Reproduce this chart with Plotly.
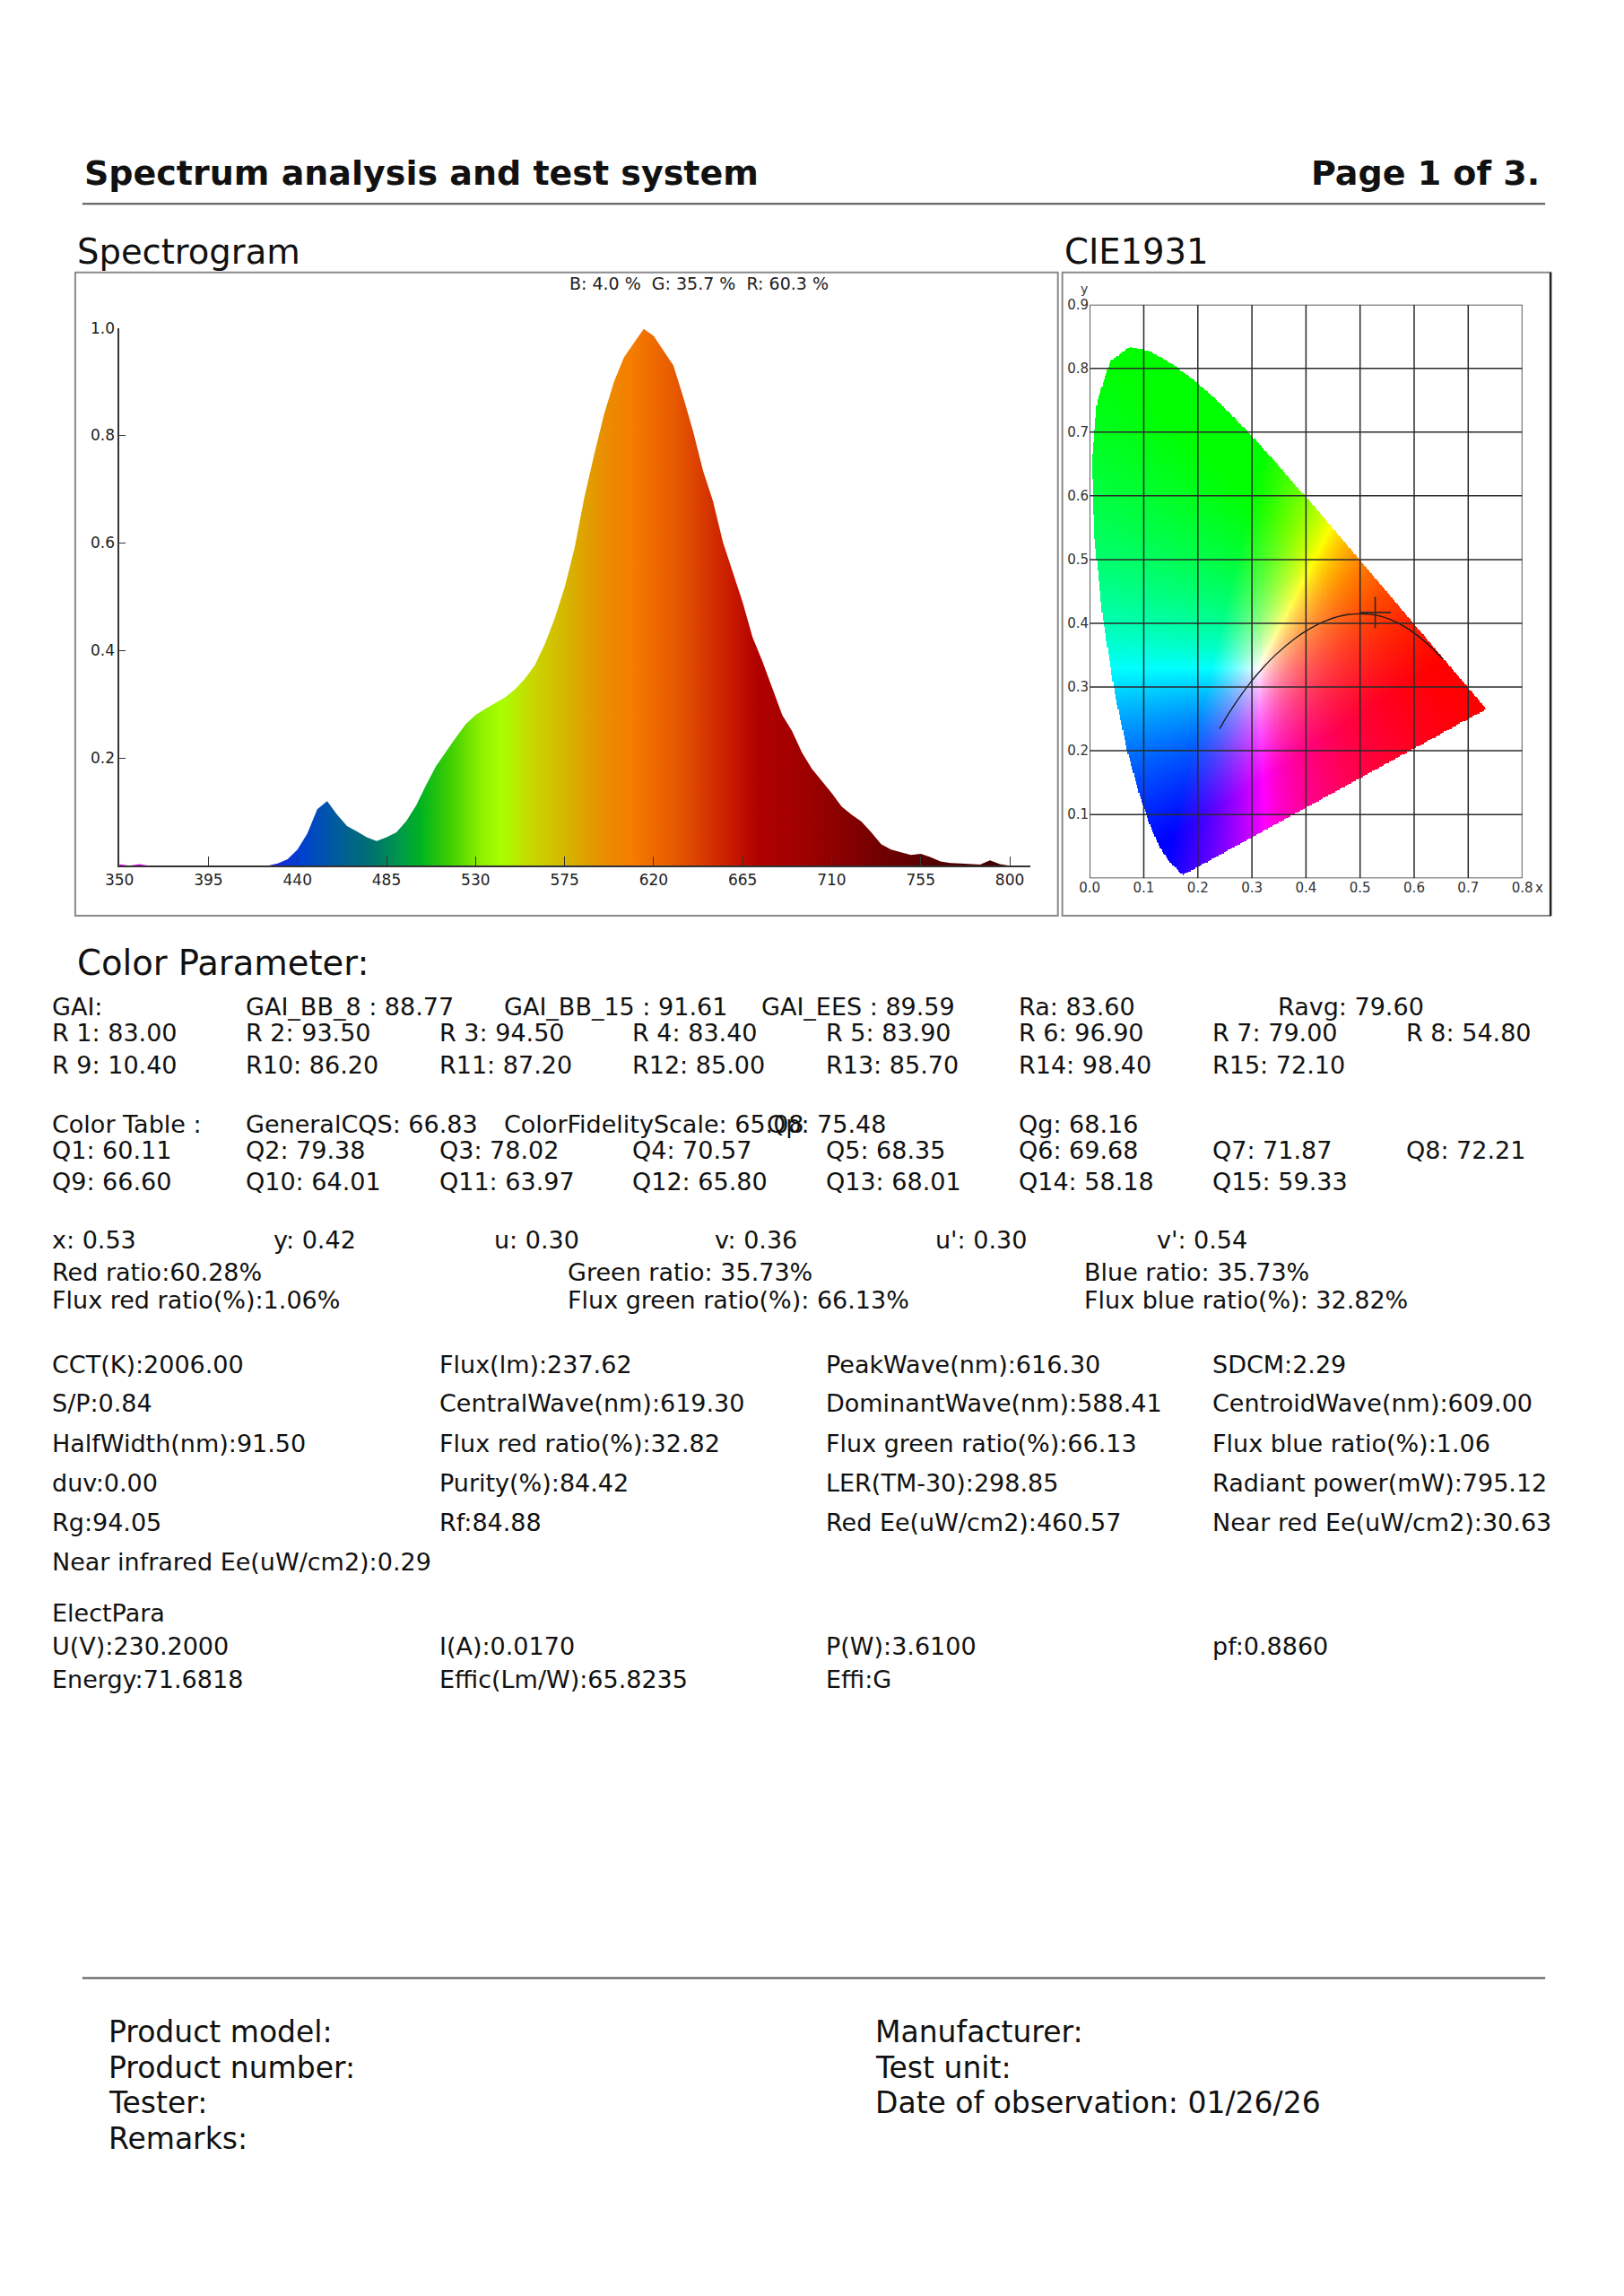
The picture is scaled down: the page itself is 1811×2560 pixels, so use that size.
import base64
import struct
import zlib

import numpy as np
import plotly.graph_objects as go

# ---------------- data read from the report ----------------
# relative spectrum, 5 nm steps
wavelength = list(range(350, 805, 5))
intensity = [
    0.003, 0.0, 0.003, 0.0, 0.0, 0.0, 0.0, 0.0, 0.0, 0.0,        # 350-395
    0.0, 0.0, 0.0, 0.0, 0.0, 0.0, 0.004, 0.012, 0.030, 0.060,     # 400-445
    0.105, 0.120, 0.095, 0.074, 0.064, 0.053, 0.046, 0.053, 0.062, 0.083,  # 450-495
    0.112, 0.150, 0.185, 0.212, 0.238, 0.263, 0.280, 0.292, 0.302, 0.313,  # 500-545
    0.328, 0.348, 0.373, 0.412, 0.460, 0.517, 0.590, 0.685, 0.765, 0.840,  # 550-595
    0.900, 0.945, 0.972, 0.998, 0.985, 0.958, 0.930, 0.871, 0.807, 0.734,  # 600-645
    0.678, 0.602, 0.545, 0.490, 0.425, 0.380, 0.330, 0.280, 0.250, 0.210,  # 650-695
    0.180, 0.158, 0.135, 0.110, 0.095, 0.082, 0.062, 0.040, 0.030, 0.025,  # 700-745
    0.020, 0.022, 0.016, 0.008, 0.005, 0.004, 0.003, 0.002, 0.010, 0.003,  # 750-795
    0.0,                                                           # 800
]
spec_ticks = list(range(350, 805, 45))
spec_yticks = [0.2, 0.4, 0.6, 0.8, 1.0]
rgb_share = "B: 4.0 %  G: 35.7 %  R: 60.3 %"

# fill colours along the wavelength axis
band_nm = [350, 400, 425, 440, 460, 475, 490, 500, 515, 530, 540, 555, 575, 590,
           605, 625, 640, 655, 668, 690, 710, 730, 760, 800]
band_col = ["#ff00ff", "#7a00ff", "#2020e0", "#0040d0", "#005e98", "#007070",
            "#009a48", "#00b420", "#40d000", "#90f000", "#a8ff00", "#c8d800",
            "#d8b000", "#e89000", "#f57c00", "#e85c00", "#d83c00", "#c81800",
            "#b00000", "#a00000", "#880000", "#700000", "#500000", "#3c0000"]

# CIE 1931 spectral locus 380-700 nm (5 nm)
locus_x = [0.1741, 0.1740, 0.1738, 0.1736, 0.1733, 0.1730, 0.1726, 0.1721, 0.1714,
           0.1703, 0.1689, 0.1669, 0.1644, 0.1611, 0.1566, 0.1510, 0.1440, 0.1355,
           0.1241, 0.1096, 0.0913, 0.0687, 0.0454, 0.0235, 0.0082, 0.0039, 0.0139,
           0.0389, 0.0743, 0.1142, 0.1547, 0.1929, 0.2296, 0.2658, 0.3016, 0.3373,
           0.3731, 0.4087, 0.4441, 0.4788, 0.5125, 0.5448, 0.5752, 0.6029, 0.6270,
           0.6482, 0.6658, 0.6801, 0.6915, 0.7006, 0.7079, 0.7140, 0.7190, 0.7230,
           0.7260, 0.7283, 0.7300, 0.7311, 0.7320, 0.7327, 0.7334, 0.7340, 0.7344,
           0.7346, 0.7347]
locus_y = [0.0050, 0.0050, 0.0049, 0.0049, 0.0048, 0.0048, 0.0048, 0.0048, 0.0051,
           0.0058, 0.0069, 0.0086, 0.0109, 0.0138, 0.0177, 0.0227, 0.0297, 0.0399,
           0.0578, 0.0868, 0.1327, 0.2007, 0.2950, 0.4127, 0.5384, 0.6548, 0.7502,
           0.8120, 0.8338, 0.8262, 0.8059, 0.7816, 0.7543, 0.7243, 0.6923, 0.6589,
           0.6245, 0.5896, 0.5547, 0.5202, 0.4866, 0.4544, 0.4242, 0.3965, 0.3725,
           0.3514, 0.3340, 0.3197, 0.3083, 0.2993, 0.2920, 0.2859, 0.2809, 0.2770,
           0.2740, 0.2717, 0.2700, 0.2689, 0.2680, 0.2673, 0.2666, 0.2660, 0.2656,
           0.2654, 0.2653]

# Planckian locus 1000 K .. infinity
planck_x = [0.6528, 0.6251, 0.5857, 0.5547, 0.5267, 0.4770, 0.4369, 0.4053, 0.3805,
            0.3451, 0.3221, 0.3064, 0.2952, 0.2807, 0.2637, 0.2565, 0.2501, 0.2399]
planck_y = [0.3444, 0.3674, 0.3931, 0.4065, 0.4133, 0.4137, 0.4041, 0.3907, 0.3768,
            0.3516, 0.3318, 0.3166, 0.3048, 0.2883, 0.2673, 0.2577, 0.2489, 0.2342]

point_x, point_y = 0.528, 0.417
cie_xticks = [0.0, 0.1, 0.2, 0.3, 0.4, 0.5, 0.6, 0.7, 0.8]
cie_yticks = [0.0, 0.1, 0.2, 0.3, 0.4, 0.5, 0.6, 0.7, 0.8, 0.9]

# colour parameter texts
gai_row = ["GAI:", "GAI_BB_8 : 88.77", "GAI_BB_15 : 91.61", "GAI_EES : 89.59",
           "Ra: 83.60", "Ravg: 79.60"]
r_values = [83.00, 93.50, 94.50, 83.40, 83.90, 96.90, 79.00, 54.80,
            10.40, 86.20, 87.20, 85.00, 85.70, 98.40, 72.10]
cqs_row = ["Color Table :", "GeneralCQS: 66.83", "ColorFidelityScale: 65.08",
           "Qp: 75.48", "Qg: 68.16"]
q_values = [60.11, 79.38, 78.02, 70.57, 68.35, 69.68, 71.87, 72.21,
            66.60, 64.01, 63.97, 65.80, 68.01, 58.18, 59.33]
chroma_row = ["x: 0.53", "y: 0.42", "u: 0.30", "v: 0.36", "u': 0.30", "v': 0.54"]
ratio_rows = [
    ["Red ratio:60.28%", "Green ratio: 35.73%", "Blue ratio: 35.73%"],
    ["Flux red ratio(%):1.06%", "Flux green ratio(%): 66.13%", "Flux blue ratio(%): 32.82%"],
]
photo_rows = [
    ["CCT(K):2006.00", "Flux(lm):237.62", "PeakWave(nm):616.30", "SDCM:2.29"],
    ["S/P:0.84", "CentralWave(nm):619.30", "DominantWave(nm):588.41", "CentroidWave(nm):609.00"],
    ["HalfWidth(nm):91.50", "Flux red ratio(%):32.82", "Flux green ratio(%):66.13", "Flux blue ratio(%):1.06"],
    ["duv:0.00", "Purity(%):84.42", "LER(TM-30):298.85", "Radiant power(mW):795.12"],
    ["Rg:94.05", "Rf:84.88", "Red Ee(uW/cm2):460.57", "Near red Ee(uW/cm2):30.63"],
    ["Near infrared Ee(uW/cm2):0.29"],
]
elect_rows = [
    ["ElectPara"],
    ["U(V):230.2000", "I(A):0.0170", "P(W):3.6100", "pf:0.8860"],
    ["Energy:71.6818", "Effic(Lm/W):65.8235", "Effi:G"],
]
footer_left = ["Product model:", "Product number:", "Tester:", "Remarks:"]
footer_right = ["Manufacturer:", "Test unit:", "Date of observation: 01/26/26"]

# ---------------- page geometry (pixels) ----------------
W, H = 1811, 2560
FONT = "DejaVu Sans"


def fx(p):
    return p / W


def fy(p):
    return 1 - p / H


def txt(s, x, y, size=27, anchor="left", color="#111"):
    return dict(text=s, x=fx(x), y=fy(y), xref="paper", yref="paper",
                xanchor=anchor, yanchor="middle", showarrow=False,
                font=dict(family=FONT, size=size, color=color))


# ---------------- CIE background picture ----------------
NX, NY = 400, 450
DX, DY = 0.8 / NX, 0.9 / NY
gx, gy = np.meshgrid((np.arange(NX) + 0.5) * DX, (np.arange(NY) + 0.5) * DY)

vx = np.array(locus_x)
vy = np.array(locus_y)
inside = np.zeros(gx.shape, bool)
j = len(vx) - 1
with np.errstate(divide="ignore", invalid="ignore"):
    for i in range(len(vx)):
        cross = ((vy[i] > gy) != (vy[j] > gy)) & \
                (gx < (vx[j] - vx[i]) * (gy - vy[i]) / (vy[j] - vy[i]) + vx[i])
        inside ^= cross
        j = i

M = np.array([[3.2406, -1.5372, -0.4986],
              [-0.9689, 1.8758, 0.0415],
              [0.0557, -0.2040, 1.0570]])
XYZ = np.stack([gx / gy, np.ones_like(gx), (1 - gx - gy) / gy], axis=-1)
lin = np.clip(XYZ @ M.T, 0, None)
lin = lin / np.maximum(lin.max(axis=-1, keepdims=True), 1e-9)
rgba = np.zeros((NY, NX, 4), np.uint8)
rgba[..., :3] = np.clip(lin * 255, 0, 255).astype(np.uint8)
rgba[..., 3] = np.where(inside, 255, 0)


def png_uri(img):
    h, w, _ = img.shape
    raw = b"".join(b"\x00" + img[r].tobytes() for r in range(h))

    def chunk(tag, data):
        c = struct.pack(">I", len(data)) + tag + data
        return c + struct.pack(">I", zlib.crc32(tag + data) & 0xFFFFFFFF)

    png = (b"\x89PNG\r\n\x1a\n"
           + chunk(b"IHDR", struct.pack(">IIBBBBB", w, h, 8, 6, 0, 0, 0))
           + chunk(b"IDAT", zlib.compress(raw, 9))
           + chunk(b"IEND", b""))
    return "data:image/png;base64," + base64.b64encode(png).decode()


# ---------------- figure ----------------
fig = go.Figure()

span = band_nm[-1] - band_nm[0]
scale = [[(n - band_nm[0]) / span, c] for n, c in zip(band_nm, band_col)]
fig.add_trace(go.Scatter(
    x=wavelength, y=intensity, mode="lines", line=dict(width=0.5, color="rgba(0,0,0,0)"),
    fill="tozeroy",
    fillgradient=dict(type="horizontal", colorscale=scale, start=band_nm[0], stop=band_nm[-1]),
    hoverinfo="skip",
))

fig.add_trace(go.Image(source=png_uri(rgba), x0=DX / 2, dx=DX, y0=DY / 2, dy=DY,
                       xaxis="x2", yaxis="y2", hoverinfo="skip"))
fig.add_trace(go.Scatter(x=planck_x, y=planck_y, mode="lines", xaxis="x2", yaxis="y2",
                         line=dict(color="#1a1a1a", width=1.3, shape="spline"),
                         hoverinfo="skip"))
fig.add_trace(go.Scatter(x=[point_x], y=[point_y], mode="markers", xaxis="x2", yaxis="y2",
                         marker=dict(symbol="cross-thin", size=25,
                                     line=dict(width=1.6, color="#2a2a2a")),
                         hoverinfo="skip"))

BOX_TOP, BOX_BOT = 295, 1015
shapes = [
    dict(type="line", xref="paper", yref="paper", x0=fx(77), x1=fx(1734), y0=fy(218), y1=fy(218),
         line=dict(color="#555", width=2)),
    dict(type="line", xref="paper", yref="paper", x0=fx(77), x1=fx(1734), y0=fy(2204), y1=fy(2204),
         line=dict(color="#555", width=2)),
    dict(type="rect", xref="paper", yref="paper", x0=fx(69), x1=fx(1182), y0=fy(BOX_BOT), y1=fy(BOX_TOP),
         line=dict(color="#8a8a8a", width=2)),
    dict(type="rect", xref="paper", yref="paper", x0=fx(1187), x1=fx(1740), y0=fy(BOX_BOT), y1=fy(BOX_TOP),
         line=dict(color="#8a8a8a", width=2)),
    dict(type="line", xref="paper", yref="paper", x0=fx(1740), x1=fx(1740), y0=fy(BOX_BOT), y1=fy(BOX_TOP),
         line=dict(color="#222", width=2.5)),
]
for v in cie_xticks:
    shapes.append(dict(type="line", xref="x2", yref="y2", x0=v, x1=v, y0=0, y1=0.9, layer="above",
                       line=dict(color="#2a2a2a", width=1.5)))
for v in cie_yticks:
    shapes.append(dict(type="line", xref="x2", yref="y2", x0=0, x1=0.8, y0=v, y1=v, layer="above",
                       line=dict(color="#2a2a2a", width=1.5)))

ann = [
    txt("<b>Spectrum analysis and test system</b>", 77, 184, size=38),
    txt("<b>Page 1 of 3.</b>", 1730, 184, size=38, anchor="right"),
    txt("Spectrogram", 69, 272, size=38.5),
    txt("CIE1931", 1187, 272, size=38.5),
    txt(rgb_share, 775, 307, size=19, anchor="center", color="#222"),
    txt("y", 1212, 313, size=14, anchor="center", color="#333"),
    txt("x", 1727, 984, size=15, anchor="center", color="#333"),
    txt("Color Parameter:", 69, 1068, size=38.5),
]

# GAI / R / CQS / Q block
col8 = [41, 260, 479, 698, 917, 1136, 1355, 1574]
for s, x in zip(gai_row, [41, 260, 553, 844, 1136, 1429]):
    ann.append(txt(s, x, 1117))
for k, v in enumerate(r_values):
    ann.append(txt(f"R{k + 1:2d}: {v:.2f}", col8[k % 8], 1146 if k < 8 else 1182))
for s, x in zip(cqs_row, [41, 260, 553, 850, 1136]):
    ann.append(txt(s, x, 1248))
for k, v in enumerate(q_values):
    ann.append(txt(f"Q{k + 1}: {v:.2f}", col8[k % 8], 1277 if k < 8 else 1313))

for s, x in zip(chroma_row, [41, 291, 541, 791, 1041, 1292]):
    ann.append(txt(s, x, 1378))
for row, y in zip(ratio_rows, [1414, 1445]):
    for s, x in zip(row, [41, 625, 1210]):
        ann.append(txt(s, x, y))

col4 = [41, 479, 917, 1355]
for row, y in zip(photo_rows + elect_rows, [1517, 1561, 1606, 1650, 1694, 1738, 1796, 1833, 1870]):
    for s, x in zip(row, col4):
        ann.append(txt(s, x, y))

for s, y in zip(footer_left, [2264, 2304, 2344, 2384]):
    ann.append(txt(s, 105, y, size=33))
for s, y in zip(footer_right, [2264, 2304, 2344]):
    ann.append(txt(s, 973, y, size=33))

axis_font = dict(family=FONT, size=17, color="#222")
cie_font = dict(family=FONT, size=15, color="#333")
fig.update_layout(
    width=W, height=H, margin=dict(l=0, r=0, t=0, b=0),
    paper_bgcolor="white", plot_bgcolor="rgba(0,0,0,0)", showlegend=False,
    font=dict(family=FONT),
    xaxis=dict(domain=[fx(119), fx(1151)], range=[350, 810.5], tickvals=spec_ticks,
               ticks="inside", ticklen=11, tickcolor="#333", showline=True, linecolor="#333",
               linewidth=1.5, showgrid=False, zeroline=False, tickfont=axis_font, anchor="y"),
    yaxis=dict(domain=[fy(959), fy(357)], range=[0, 1.0], tickvals=spec_yticks,
               ticktext=[f"{v:.1f}" for v in spec_yticks], ticks="inside", ticklen=7,
               tickcolor="#333", showline=True, linecolor="#333", linewidth=1.5,
               showgrid=False, zeroline=False, tickfont=axis_font, anchor="x"),
    xaxis2=dict(domain=[fx(1218), fx(1708)], range=[0, 0.8], tickvals=cie_xticks,
                ticktext=[f"{v:.1f}" for v in cie_xticks], ticks="", ticklen=0, showline=False,
                showgrid=False, zeroline=False, tickfont=cie_font, anchor="y2"),
    yaxis2=dict(domain=[fy(973), fy(331)], range=[0, 0.9], tickvals=cie_yticks[1:],
                ticktext=[f"{v:.1f}" for v in cie_yticks[1:]], ticks="", ticklen=0, showline=False,
                showgrid=False, zeroline=False, tickfont=cie_font, anchor="x2",
                scaleanchor=False, autorange=False),
    shapes=shapes,
    annotations=ann,
)

fig.write_html("out.html", config={"displayModeBar": False},
               post_script="document.body.style.margin='0px';")
